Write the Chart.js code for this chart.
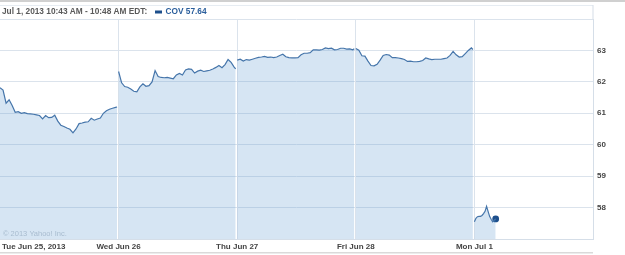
<!DOCTYPE html>
<html><head><meta charset="utf-8">
<script src="https://cdn.jsdelivr.net/npm/chart.js@4/dist/chart.umd.min.js"></script>
<style>html,body{margin:0;padding:0;background:#fff}#wrap{width:625px;height:255px;position:relative}</style>
</head><body><div id="wrap"><canvas id="c"></canvas></div>
<script>
// ---- data ----
const dayLabels = ['Tue Jun 25, 2013', 'Wed Jun 26', 'Thu Jun 27', 'Fri Jun 28', 'Mon Jul 1'];
const dayStartMinutes = [0, 390, 780, 1170, 1560];   // trading minutes from Tue 9:30
const sessionEnd = 1950;
const yTickValues = [58, 59, 60, 61, 62, 63];
const headerText = 'Jul 1, 2013 10:43 AM - 10:48 AM EDT:';
const symbol = 'COV';
const lastPrice = '57.64';
const copyrightText = '\u00A9 2013 Yahoo! Inc.';

// 10-minute samples (last one at the 15:55 bar)
const jun25 = [61.81,61.74,61.32,61.43,61.25,61.03,61.05,61.00,61.02,60.99,60.98,60.97,60.95,60.93,60.82,60.93,60.86,60.87,60.94,60.75,60.62,60.58,60.53,60.49,60.38,60.50,60.67,60.69,60.72,60.73,60.84,60.78,60.82,60.85,61.00,61.08,61.13,61.16,61.19,61.20];
const jun26 = [62.33,61.97,61.85,61.83,61.77,61.70,61.68,61.84,61.94,61.86,61.88,62.00,62.36,62.17,62.14,62.13,62.14,62.12,62.10,62.22,62.27,62.22,62.38,62.41,62.40,62.28,62.34,62.37,62.33,62.35,62.37,62.41,62.46,62.52,62.45,62.55,62.71,62.62,62.47,62.41];
const jun27 = [62.69,62.72,62.66,62.71,62.69,62.72,62.75,62.78,62.79,62.81,62.78,62.79,62.77,62.79,62.84,62.88,62.80,62.77,62.76,62.76,62.77,62.86,62.91,62.91,62.93,63.02,63.02,63.01,63.03,63.08,63.06,63.07,63.02,63.03,63.07,63.07,63.04,63.05,63.02,63.05];
const jun28 = [63.06,63.01,62.83,62.82,62.66,62.52,62.51,62.56,62.69,62.84,62.87,62.85,62.77,62.77,62.76,62.74,62.71,62.65,62.66,62.64,62.64,62.65,62.68,62.76,62.73,62.71,62.72,62.72,62.72,62.74,62.76,62.84,62.97,62.86,62.79,62.80,62.90,63.00,63.08,63.03];
// 5-minute samples
const jul1 = [57.55,57.66,57.71,57.72,57.72,57.75,57.81,57.88,58.04,57.88,57.72,57.63,57.55,57.60,57.64];

const fullDayMinute = i => (i < 39 ? i * 10 : 385);
const mondayMinute = i => i * 5;

// ---- chart ----
const days = [jun25, jun26, jun27, jun28, jul1];
const lineColor = '#4575aa';
const fillColor = 'rgba(96,156,208,0.26)';
const gridColor = '#dbe3ec';

const datasets = days.map((vals, d) => ({
  type: 'line',
  data: vals.map((v, i) => ({ x: dayStartMinutes[d] + (d < 4 ? fullDayMinute(i) : mondayMinute(i)), y: v })),
  borderColor: lineColor,
  borderWidth: 1.2,
  backgroundColor: fillColor,
  fill: 'start',
  pointRadius: 0,
  tension: 0
}));
const lastIdx = jul1.length - 1;
datasets.push({
  type: 'scatter',
  data: [{ x: dayStartMinutes[4] + mondayMinute(lastIdx), y: jul1[lastIdx] }],
  pointRadius: 3.4,
  backgroundColor: '#1d4f8c',
  borderWidth: 0,
  clip: false
});

const decor = {
  id: 'decor',
  beforeDraw(chart) {
    const c = chart.ctx;
    c.save();
    c.fillStyle = '#fff';
    c.fillRect(0, 0, chart.width, chart.height);
    c.restore();
  },
  afterDraw(chart) {
    const c = chart.ctx, xs = chart.scales.x, area = chart.chartArea;
    c.save();
    // frame lines
    c.fillStyle = '#d0d0d0';
    c.fillRect(0, 0, chart.width, 2);
    c.fillStyle = '#e6ecf2';
    c.fillRect(0, 5, area.right, 1);
    c.fillStyle = '#d5dee8';
    c.fillRect(area.right - 0.5, 5, 1, area.top - 5);
    c.fillStyle = '#dadada';
    c.fillRect(0, 252, area.right, 1.5);

    // header
    c.textBaseline = 'middle';
    c.textAlign = 'left';
    c.font = 'bold 8.3px "Liberation Sans", Arial, sans-serif';
    c.fillStyle = '#5a5a5a';
    c.fillText(headerText, 2, 12);
    c.fillStyle = '#1d4f8c';
    c.fillRect(155, 10.5, 7, 3);
    c.fillStyle = '#2a5e9c';
    c.fillText(symbol + ' ' + lastPrice, 165.5, 12);

    // x labels
    c.font = 'bold 8px "Liberation Sans", Arial, sans-serif';
    c.fillStyle = '#444';
    dayLabels.forEach((t, i) => {
      const px = xs.getPixelForValue(dayStartMinutes[i]);
      c.textAlign = i === 0 ? 'left' : 'center';
      c.fillText(t, i === 0 ? px + 2 : px, 246.5);
    });

    // copyright
    c.textAlign = 'left';
    c.font = '7.5px "Liberation Sans", Arial, sans-serif';
    c.fillStyle = '#a8bccf';
    c.fillText(copyrightText, 3, 233.5);
    c.restore();
  }
};

new Chart(document.getElementById('c'), {
  data: { datasets },
  options: {
    animation: false,
    responsive: true,
    maintainAspectRatio: false,
    layout: { autoPadding: false, padding: { top: 19, left: 0, right: 0, bottom: 0 } },
    plugins: { legend: { display: false }, tooltip: { enabled: false } },
    scales: {
      x: {
        type: 'linear',
        min: 0,
        max: sessionEnd,
        ticks: { display: false },
        grid: { color: gridColor, drawTicks: false },
        border: { display: true, color: '#d5dee8' },
        afterBuildTicks(s) { s.ticks = dayStartMinutes.slice(1).map(v => ({ value: v })); },
        afterFit(s) { s.height = 16; s.paddingLeft = 0; s.paddingRight = 0; }
      },
      y: {
        position: 'right',
        min: 57,
        max: 64,
        ticks: {
          stepSize: 1,
          padding: 4,
          color: '#444',
          font: { family: '"Liberation Sans", Arial, sans-serif', size: 8, weight: 'bold' },
          callback: v => (yTickValues.includes(v) ? String(v) : '')
        },
        grid: { color: gridColor, drawTicks: false },
        border: { display: true, color: '#d5dee8' },
        afterFit(s) { s.width = 32; }
      }
    }
  },
  plugins: [decor]
});
</script>
</body></html>
